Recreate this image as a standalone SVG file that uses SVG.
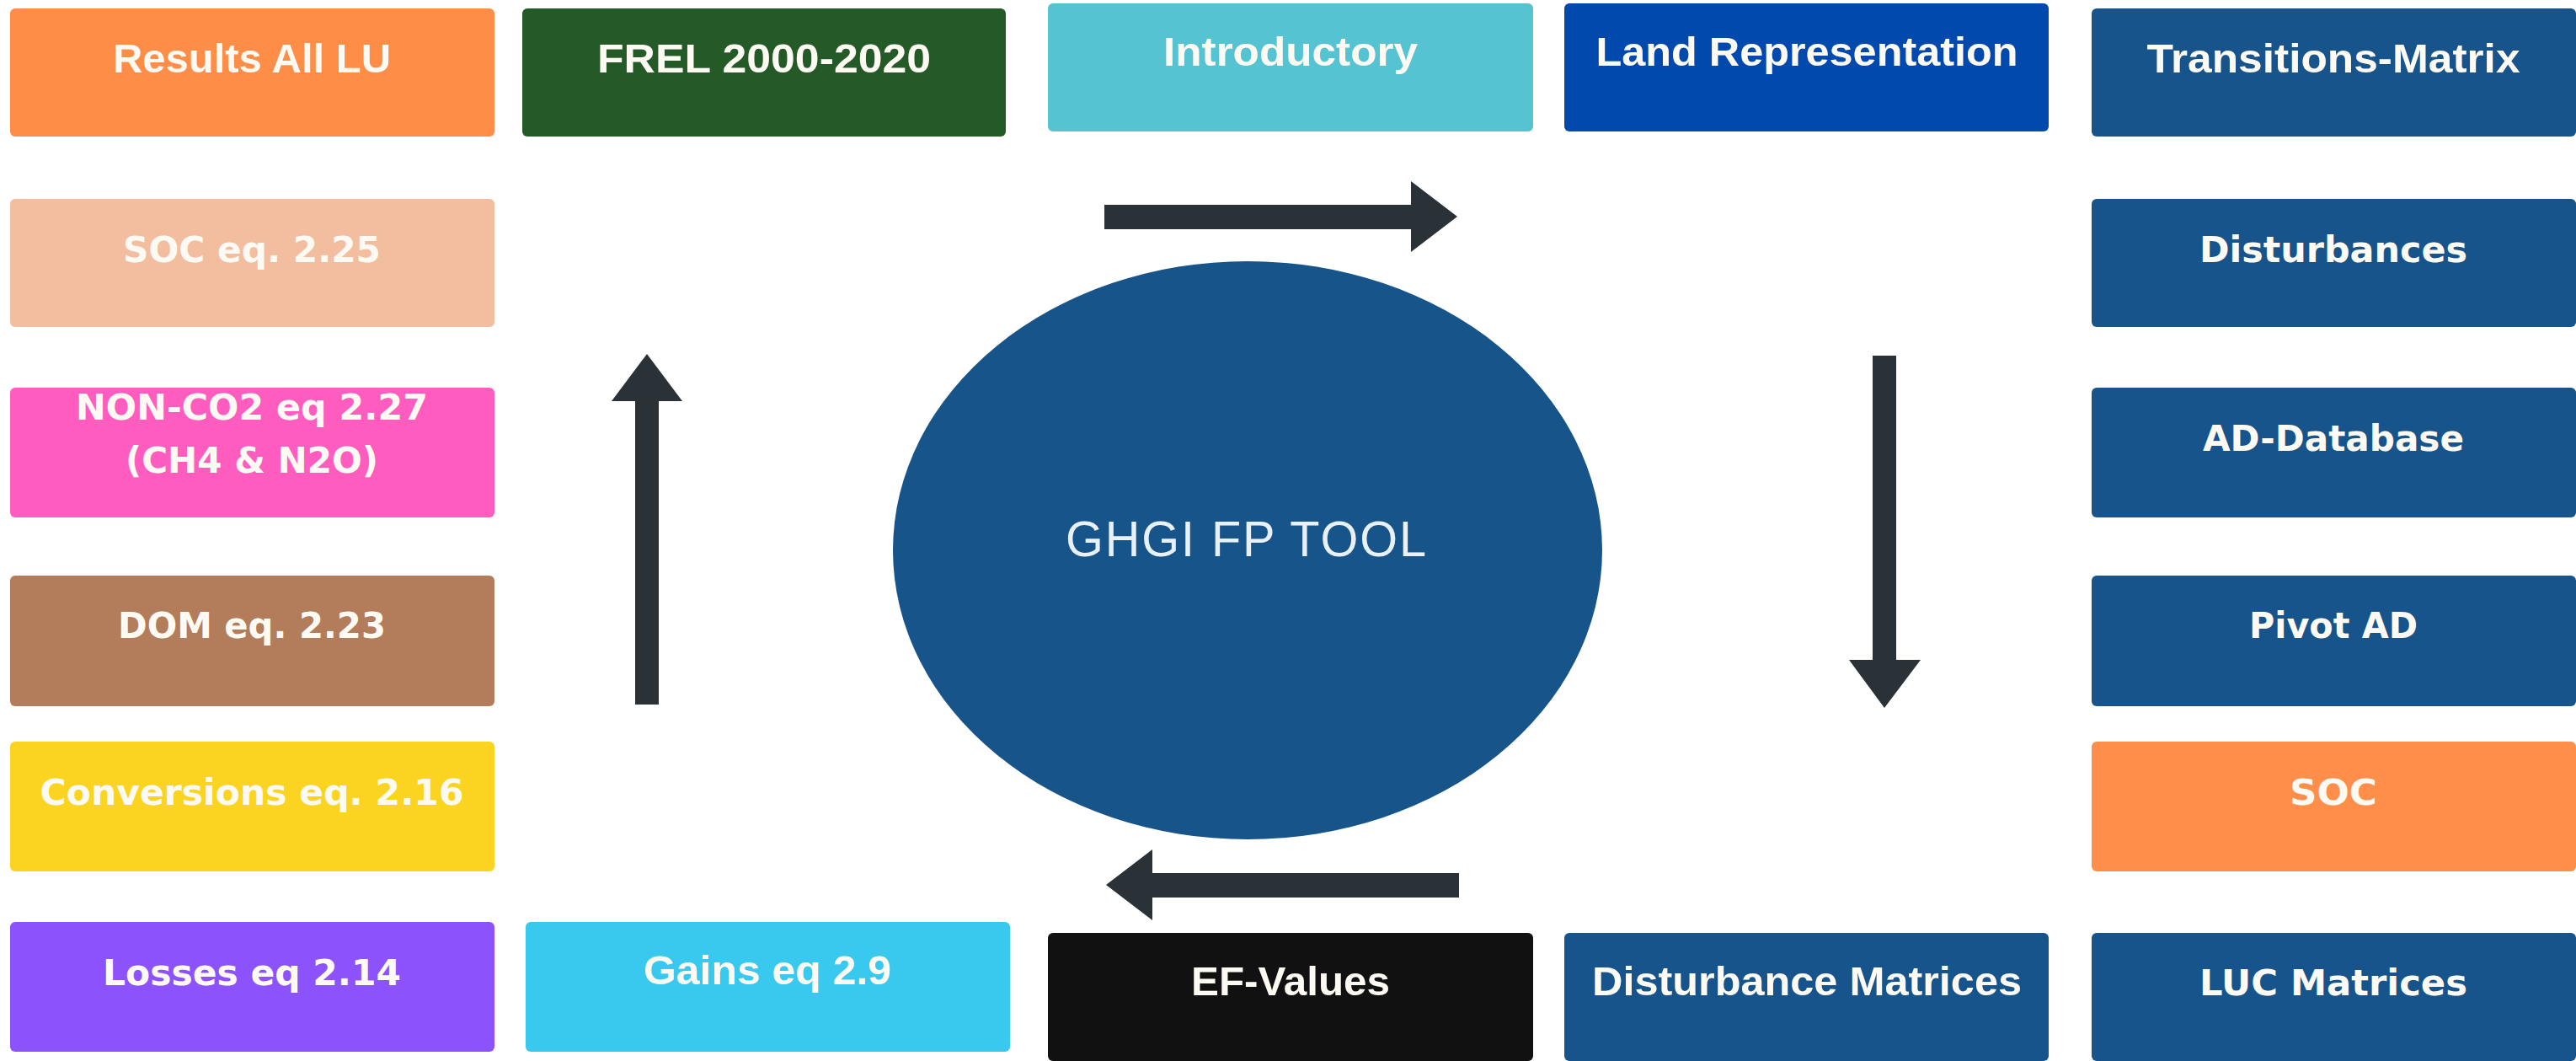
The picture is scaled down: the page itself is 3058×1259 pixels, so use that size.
<svg xmlns="http://www.w3.org/2000/svg" width="3058" height="1259" viewBox="0 0 3058 1259">
  <style>
    .box { rx: 6px; ry: 6px; }
    .lbl { font-family: "Liberation Sans", Arial, sans-serif; font-weight: bold; font-size: 48px; fill: #fdfaf4; text-anchor: middle; }
    .wide { font-family: "DejaVu Sans", "Liberation Sans", sans-serif; font-weight: bold; font-size: 42px; fill: #fdfaf4; text-anchor: middle; }
    .hub { font-family: "Liberation Sans", Arial, sans-serif; font-weight: normal; font-size: 60px; fill: #e9f1f8; text-anchor: middle; letter-spacing: 2px; }
    .arrow { fill: #2a3137; }
    .navy { fill: #16548b; }
  </style>

  <rect width="3058" height="1259" fill="#ffffff"/>

  <!-- top row -->
  <g id="results-all-lu">
    <rect class="box" x="12" y="10" width="575" height="152" fill="#fe8d48"/>
    <text class="lbl" x="299" y="86" textLength="330" lengthAdjust="spacingAndGlyphs">Results All LU</text>
  </g>
  <g id="frel">
    <rect class="box" x="620" y="10" width="574" height="152" fill="#245a27"/>
    <text class="lbl" x="907" y="86" textLength="396" lengthAdjust="spacingAndGlyphs">FREL 2000-2020</text>
  </g>
  <g id="introductory">
    <rect class="box" x="1244" y="4" width="576" height="152" fill="#56c3d2"/>
    <text class="lbl" x="1532" y="78" textLength="302" lengthAdjust="spacingAndGlyphs">Introductory</text>
  </g>
  <g id="land-representation">
    <rect class="box" x="1857" y="4" width="575" height="152" fill="#0149ac"/>
    <text class="lbl" x="2145" y="78" textLength="501" lengthAdjust="spacingAndGlyphs">Land Representation</text>
  </g>
  <g id="transitions-matrix">
    <rect class="box navy" x="2483" y="10" width="575" height="152"/>
    <text class="lbl" x="2770" y="86" textLength="443" lengthAdjust="spacingAndGlyphs">Transitions-Matrix</text>
  </g>

  <!-- left column -->
  <g id="soc-eq">
    <rect class="box" x="12" y="236" width="575" height="152" fill="#f2be9f"/>
    <text class="wide" x="299" y="311" textLength="306" lengthAdjust="spacingAndGlyphs">SOC eq. 2.25</text>
  </g>
  <g id="non-co2">
    <rect class="box" x="12" y="460" width="575" height="154" fill="#fe5dbf"/>
    <text class="wide" x="299" y="498" textLength="418" lengthAdjust="spacingAndGlyphs">NON-CO2 eq 2.27</text>
    <text class="wide" x="299" y="561" textLength="300" lengthAdjust="spacingAndGlyphs">(CH4 &amp; N2O)</text>
  </g>
  <g id="dom-eq">
    <rect class="box" x="12" y="683" width="575" height="155" fill="#b37c5a"/>
    <text class="wide" x="299" y="757" textLength="318" lengthAdjust="spacingAndGlyphs">DOM eq. 2.23</text>
  </g>
  <g id="conversions-eq">
    <rect class="box" x="12" y="880" width="575" height="154" fill="#fad421"/>
    <text class="wide" x="299" y="955" textLength="503" lengthAdjust="spacingAndGlyphs">Conversions eq. 2.16</text>
  </g>
  <g id="losses-eq">
    <rect class="box" x="12" y="1094" width="575" height="154" fill="#8c52fb"/>
    <text class="wide" x="299" y="1169" textLength="354" lengthAdjust="spacingAndGlyphs">Losses eq 2.14</text>
  </g>

  <!-- bottom row -->
  <g id="gains-eq">
    <rect class="box" x="624" y="1094" width="575" height="154" fill="#39c8ee"/>
    <text class="lbl" x="911" y="1168" textLength="294" lengthAdjust="spacingAndGlyphs">Gains eq 2.9</text>
  </g>
  <g id="ef-values">
    <rect class="box" x="1244" y="1107" width="576" height="152" fill="#111111"/>
    <text class="lbl" x="1532" y="1181" textLength="236" lengthAdjust="spacingAndGlyphs">EF-Values</text>
  </g>
  <g id="disturbance-matrices">
    <rect class="box navy" x="1857" y="1107" width="575" height="152"/>
    <text class="lbl" x="2145" y="1181" textLength="510" lengthAdjust="spacingAndGlyphs">Disturbance Matrices</text>
  </g>

  <!-- right column -->
  <g id="disturbances">
    <rect class="box navy" x="2483" y="236" width="575" height="152"/>
    <text class="wide" x="2770" y="311" textLength="318" lengthAdjust="spacingAndGlyphs">Disturbances</text>
  </g>
  <g id="ad-database">
    <rect class="box navy" x="2483" y="460" width="575" height="154"/>
    <text class="wide" x="2770" y="535" textLength="310" lengthAdjust="spacingAndGlyphs">AD-Database</text>
  </g>
  <g id="pivot-ad">
    <rect class="box navy" x="2483" y="683" width="575" height="155"/>
    <text class="wide" x="2770" y="757" textLength="200" lengthAdjust="spacingAndGlyphs">Pivot AD</text>
  </g>
  <g id="soc">
    <rect class="box" x="2483" y="880" width="575" height="154" fill="#fe8e4a"/>
    <text class="wide" x="2770" y="955" textLength="104" lengthAdjust="spacingAndGlyphs">SOC</text>
  </g>
  <g id="luc-matrices">
    <rect class="box navy" x="2483" y="1107" width="575" height="152"/>
    <text class="wide" x="2770" y="1181" textLength="318" lengthAdjust="spacingAndGlyphs">LUC Matrices</text>
  </g>

  <!-- central hub -->
  <g id="ghgi-fp-tool">
    <ellipse cx="1481" cy="653" rx="421" ry="343" fill="#17548a"/>
    <text class="hub" x="1480" y="660" textLength="430" lengthAdjust="spacingAndGlyphs">GHGI FP TOOL</text>
  </g>

  <!-- cycle arrows around the hub -->
  <g id="connectors">
    <polygon class="arrow" points="1311,243 1675,243 1675,215 1730,257 1675,299 1675,272 1311,272"/>
    <polygon class="arrow" points="2223,422 2251,422 2251,783 2280,783 2237,840 2195,783 2223,783"/>
    <polygon class="arrow" points="1732,1036 1368,1036 1368,1008 1313,1050 1368,1092 1368,1065 1732,1065"/>
    <polygon class="arrow" points="754,836 754,476 726,476 768,420 810,476 782,476 782,836"/>
  </g>
</svg>
